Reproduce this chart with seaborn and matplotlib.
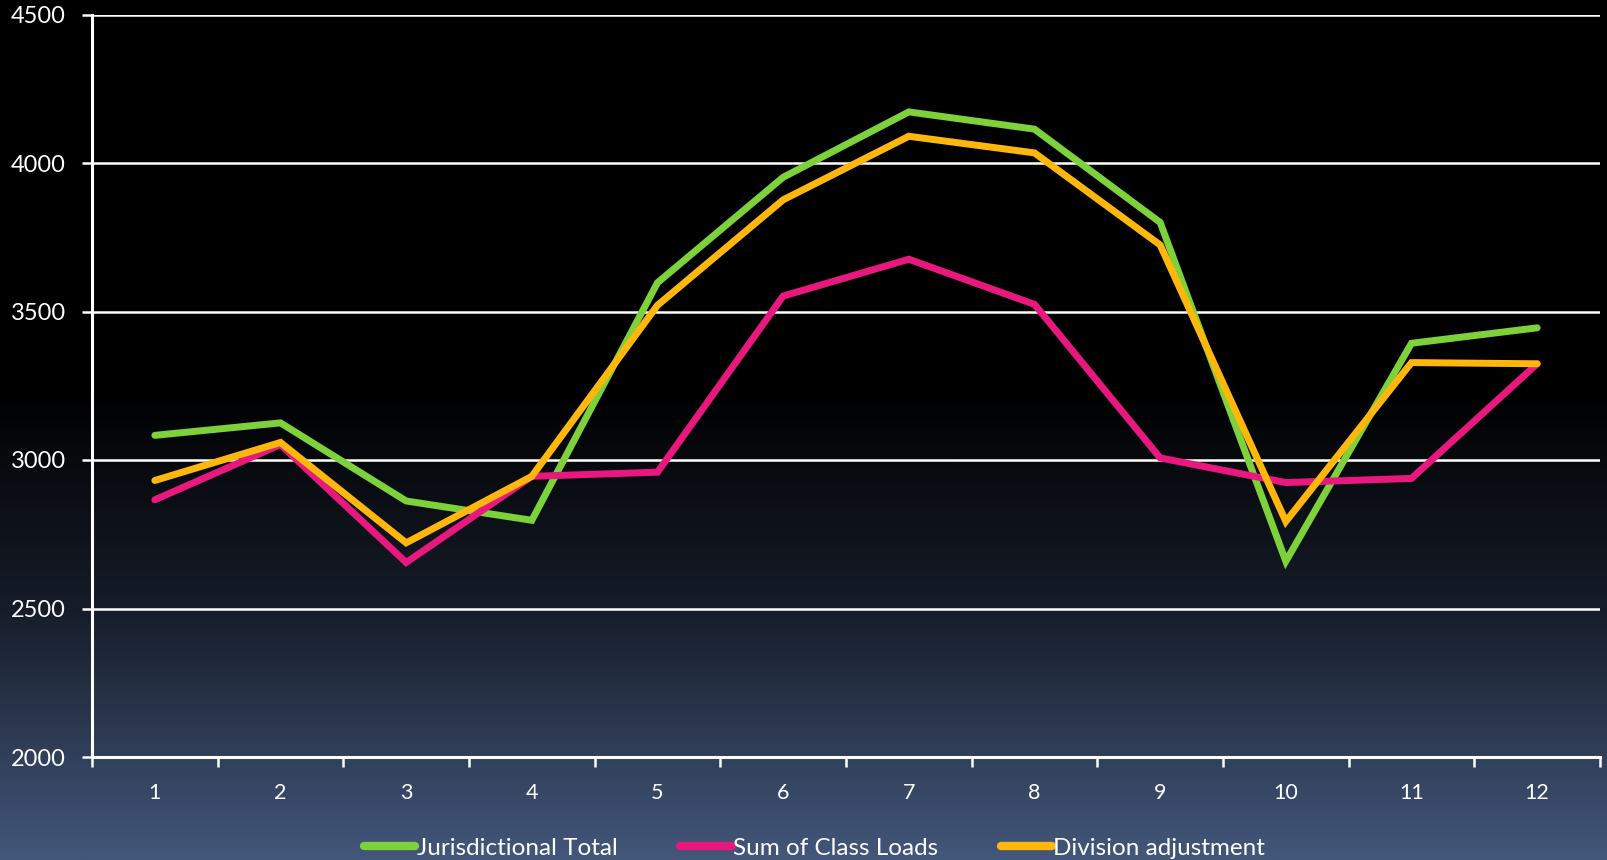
import numpy as np
import pandas as pd
import matplotlib
matplotlib.use("Agg")
import matplotlib.pyplot as plt
import seaborn as sns
from matplotlib.colors import LinearSegmentedColormap

# values
months = list(range(1, 13))
jurisdictional_total = [3083, 3125, 2862, 2797, 3597, 3952, 4172, 4114, 3800, 2659, 3393, 3445]
sum_of_class_loads = [2866, 3052, 2655, 2945, 2959, 3552, 3676, 3524, 3007, 2924, 2938, 3324]
division_adjustment = [2931, 3059, 2721, 2945, 3521, 3876, 4090, 4034, 3724, 2793, 3328, 3324]

series_names = ['Jurisdictional Total', 'Sum of Class Loads', 'Division adjustment']
colors = ['#7dd13a', '#e8187f', '#ffb70c']

df = pd.DataFrame({
    'month': months * 3,
    'load': jurisdictional_total + sum_of_class_loads + division_adjustment,
    'series': np.repeat(series_names, len(months)),
})

sns.set_theme(style='white')
plt.rcParams['font.family'] = ['Lato', 'DejaVu Sans']

fig = plt.figure(figsize=(16.07, 8.60), dpi=100)

# gradient background: black on top, slate blue at the bottom
bg = fig.add_axes([0, 0, 1, 1], zorder=-10)
cmap = LinearSegmentedColormap.from_list(
    'bg', [(0.0, '#000000'), (0.45, '#000000'), (0.7, '#151b27'), (1.0, '#43577b')])
grad = np.linspace(0, 1, 512).reshape(-1, 1)
bg.imshow(grad, aspect='auto', cmap=cmap, extent=[0, 1, 1, 0])
bg.set_axis_off()

ax = fig.add_axes([92 / 1607, 1 - 757 / 860, (1600 - 92) / 1607, (757 - 14.5) / 860])
ax.set_facecolor('none')

sns.lineplot(data=df, x='month', y='load', hue='series', hue_order=series_names,
             palette=colors, linewidth=5.0, ax=ax, legend=False, zorder=3)
for line in ax.lines:
    line.set_solid_capstyle('round')
    line.set_solid_joinstyle('miter')

ax.set_xlim(0.5, 12.5)
ax.set_ylim(2000, 4500)
ax.set_yticks(range(2000, 4501, 500))
ax.yaxis.grid(True, color='white', linewidth=1.8, zorder=1)
ax.set_axisbelow(True)

ax.set_xticks(np.arange(0.5, 12.6, 1))
ax.set_xticklabels([])
ax.set_xticks(months, minor=True)
ax.set_xticklabels([str(m) for m in months], minor=True)
ax.tick_params(axis='x', which='major', length=7, width=1.8, color='white', direction='out')
ax.tick_params(axis='x', which='minor', length=0, pad=19, labelsize=15.5, labelcolor='white')
ax.tick_params(axis='y', length=7, width=1.8, color='white', direction='out',
               pad=12, labelsize=17, labelcolor='white')
ax.tick_params(bottom=True, left=True, which='both')

for side in ['top', 'right']:
    ax.spines[side].set_visible(False)
for side in ['left', 'bottom']:
    ax.spines[side].set_color('white')
    ax.spines[side].set_linewidth(2.2)
ax.set_xlabel('')
ax.set_ylabel('')

handles = [plt.Line2D([], [], color=c, linewidth=6, solid_capstyle='round') for c in colors]
leg = fig.legend(handles, series_names, loc='lower center', bbox_to_anchor=(0.507, -0.024),
                 ncol=3, frameon=False, fontsize=17.5, handlelength=2.1, handletextpad=0.05,
                 columnspacing=2.6)
for t in leg.get_texts():
    t.set_color('white')

fig.savefig('out.png', dpi=100)
